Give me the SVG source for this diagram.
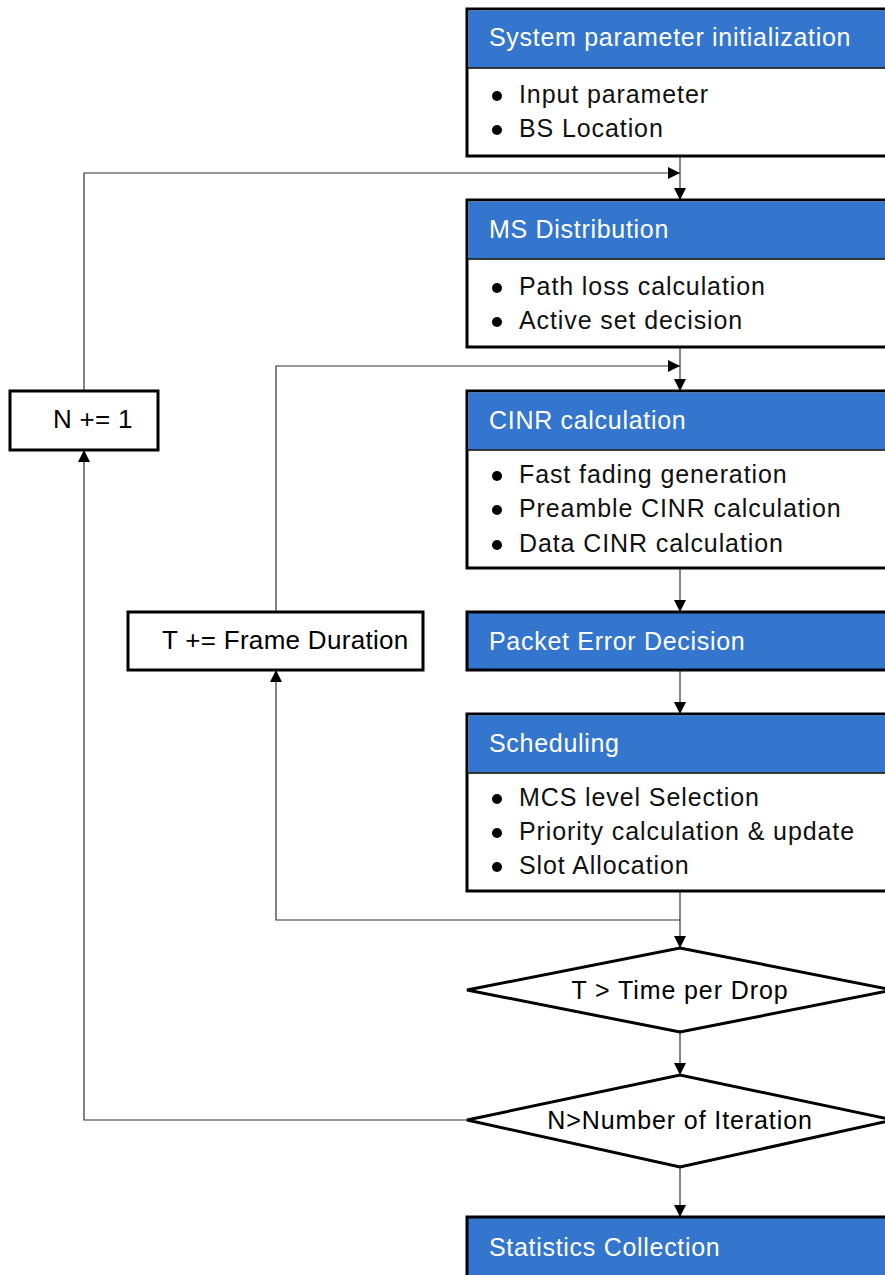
<svg xmlns="http://www.w3.org/2000/svg" width="885" height="1275" viewBox="0 0 885 1275">
<defs>
<style>
.box{fill:#fff;stroke:#000;stroke-width:3}
.hdr{fill:#3476cd}
.div{stroke:#000;stroke-width:1.5}
.ht{font-family:"Liberation Sans",Arial,sans-serif;font-size:25px;fill:#fff;letter-spacing:0.7px}
.bt{font-family:"Liberation Sans",Arial,sans-serif;font-size:25px;fill:#111;letter-spacing:0.9px}
.pt{font-family:"Liberation Sans",Arial,sans-serif;font-size:26px;fill:#000;letter-spacing:0.3px}
.dot{fill:#000}
.con{fill:none;stroke:#333;stroke-width:1.2}
</style>
<marker id="ah" viewBox="0 0 12 12" refX="12" refY="6" markerWidth="12" markerHeight="12" markerUnits="userSpaceOnUse" orient="auto">
<path d="M0,0 L12,6 L0,12 Z" fill="#000"/>
</marker>
</defs>
<rect width="885" height="1275" fill="#fff"/>

<g id="connectors">
<path class="con" d="M680,156 V200" marker-end="url(#ah)"/>
<path class="con" d="M84,391 V173 H680" marker-end="url(#ah)"/>
<path class="con" d="M680,347 V391" marker-end="url(#ah)"/>
<path class="con" d="M276,612 V366 H680" marker-end="url(#ah)"/>
<path class="con" d="M680,568 V612" marker-end="url(#ah)"/>
<path class="con" d="M680,670 V714" marker-end="url(#ah)"/>
<path class="con" d="M680,891 V948" marker-end="url(#ah)"/>
<path class="con" d="M680,920 H276 V670" marker-end="url(#ah)"/>
<path class="con" d="M680,1032 V1075" marker-end="url(#ah)"/>
<path class="con" d="M467,1120 H84 V450" marker-end="url(#ah)"/>
<path class="con" d="M680,1167 V1217" marker-end="url(#ah)"/>
</g>

<g id="init">
<rect class="box" x="467" y="9" width="430" height="147"/>
<rect class="hdr" x="468.5" y="10.5" width="428" height="57"/>
<line class="div" x1="467" y1="68" x2="897" y2="68"/>
<text class="ht" x="489" y="46">System parameter initialization</text>
<circle class="dot" cx="497" cy="96" r="5"/><text class="bt" x="519" y="103">Input parameter</text>
<circle class="dot" cx="497" cy="130" r="5"/><text class="bt" x="519" y="137">BS Location</text>
</g>

<g id="ms">
<rect class="box" x="467" y="200" width="430" height="147"/>
<rect class="hdr" x="468.5" y="201.5" width="428" height="57"/>
<line class="div" x1="467" y1="259" x2="897" y2="259"/>
<text class="ht" x="489" y="238">MS Distribution</text>
<circle class="dot" cx="497" cy="288" r="5"/><text class="bt" x="519" y="295">Path loss calculation</text>
<circle class="dot" cx="497" cy="322" r="5"/><text class="bt" x="519" y="329">Active set decision</text>
</g>

<g id="cinr">
<rect class="box" x="467" y="391" width="430" height="177"/>
<rect class="hdr" x="468.5" y="392.5" width="428" height="57"/>
<line class="div" x1="467" y1="450" x2="897" y2="450"/>
<text class="ht" x="489" y="429">CINR calculation</text>
<circle class="dot" cx="497" cy="476" r="5"/><text class="bt" x="519" y="483">Fast fading generation</text>
<circle class="dot" cx="497" cy="510" r="5"/><text class="bt" x="519" y="517">Preamble CINR calculation</text>
<circle class="dot" cx="497" cy="545" r="5"/><text class="bt" x="519" y="552">Data CINR calculation</text>
</g>

<g id="ped">
<rect class="box" x="467" y="612" width="430" height="58" style="fill:#3476cd"/>
<text class="ht" x="489" y="650">Packet Error Decision</text>
</g>

<g id="sched">
<rect class="box" x="467" y="714" width="430" height="177"/>
<rect class="hdr" x="468.5" y="715.5" width="428" height="57"/>
<line class="div" x1="467" y1="773" x2="897" y2="773"/>
<text class="ht" x="489" y="752">Scheduling</text>
<circle class="dot" cx="497" cy="799" r="5"/><text class="bt" x="519" y="806">MCS level Selection</text>
<circle class="dot" cx="497" cy="833" r="5"/><text class="bt" x="519" y="840">Priority calculation &amp; update</text>
<circle class="dot" cx="497" cy="867" r="5"/><text class="bt" x="519" y="874">Slot Allocation</text>
</g>

<g id="d1">
<polygon class="box" points="467,990 680,948 893,990 680,1032"/>
<text class="bt" x="680" y="999" text-anchor="middle" style="fill:#000">T &gt; Time per Drop</text>
</g>

<g id="d2">
<polygon class="box" points="467,1120 680,1075 893,1120 680,1167"/>
<text class="bt" x="680" y="1129" text-anchor="middle" style="fill:#000">N&gt;Number of Iteration</text>
</g>

<g id="stats">
<rect class="box" x="467" y="1217" width="430" height="80" style="fill:#3476cd"/>
<text class="ht" x="489" y="1256">Statistics Collection</text>
</g>

<g id="ninc">
<rect class="box" x="10" y="391" width="148" height="59"/>
<text class="pt" x="53" y="428">N += 1</text>
</g>

<g id="tinc">
<rect class="box" x="128" y="612" width="295" height="58"/>
<text class="pt" x="162" y="649">T += Frame Duration</text>
</g>
</svg>
